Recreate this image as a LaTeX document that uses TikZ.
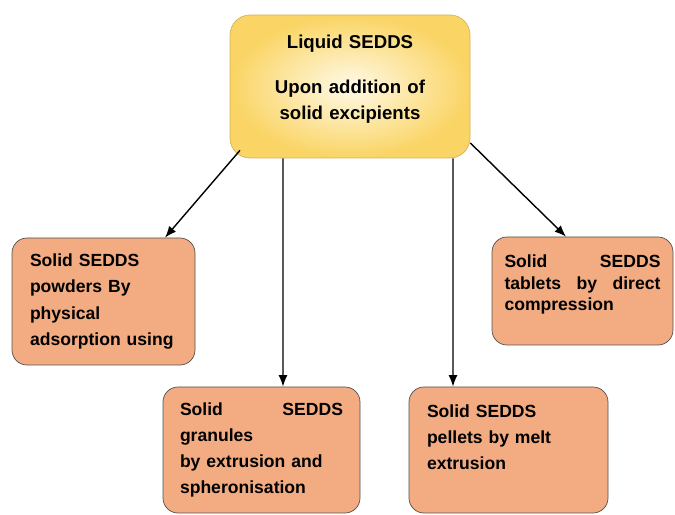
\documentclass[tikz,border=0pt]{standalone}
\usepackage{fontspec}
\setmainfont{Liberation Sans}
\usepackage{tikz}
\usetikzlibrary{calc,arrows.meta}
\definecolor{salmon}{RGB}{243,172,130}
\definecolor{boxline}{RGB}{80,80,80}
\definecolor{gold}{RGB}{250,212,100}
\definecolor{cream}{RGB}{255,250,232}
\tikzset{every edge/.style={draw, line width=0.8pt}}
\tikzset{
  sbox/.style={draw=boxline, fill=salmon, rounded corners=0.3cm, align=left, inner sep=0pt,
    font=\fontsize{10}{14.8}\selectfont\bfseries},
  topbox/.style={draw=gold!85!black, shade, inner color=cream, outer color=gold,
    rounded corners=0.4cm, align=center, inner sep=0pt,
    font=\fontsize{10.6}{14.8}\selectfont\bfseries}
}

\begin{document}
\begin{tikzpicture}[>={Latex[length=2.3mm, width=1.8mm]}]
    \path[use as bounding box] (0, 0) rectangle (13.5, 10.3);

    \node[topbox, minimum width=4.8cm, minimum height=2.86cm, text width=3.8cm, text depth=51pt] at (7.0, 8.57) (liq)
        {Liquid SEDDS\\[10.8pt] Upon addition of\\ solid excipients};

    \node[sbox, minimum width=3.66cm, minimum height=2.54cm, text width=2.94cm] at (2.07, 4.27) (pow)
        {Solid SEDDS\\ powders By\\ physical\\ adsorption using};
    \node[sbox, minimum width=3.62cm, minimum height=2.16cm, text width=3.12cm, text depth=34.5pt,
        font=\fontsize{10}{12.5}\selectfont\bfseries] at (11.65, 4.48) (tab)
        {Solid \hfill SEDDS\\ tablets \hfill by \hfill direct\\ compression};
    \node[sbox, minimum width=3.94cm, minimum height=2.52cm, text width=3.26cm] at (5.23, 1.30) (gran)
        {Solid \hfill SEDDS\\ granules\\ by extrusion and\\ spheronisation};
    \node[sbox, minimum width=3.98cm, minimum height=2.52cm, text width=3.26cm, text depth=44.6pt] at (10.17, 1.30) (pel)
        {Solid SEDDS\\ pellets by melt\\ extrusion};

    \draw ([xshift=-2.2cm, yshift=0.16cm]liq.south) edge[->] ([xshift=1.23cm]pow.north);
    \draw ([xshift=-1.34cm]liq.south) edge[->] ([xshift=0.43cm]gran.north);
    \draw ([xshift=2.06cm]liq.south) edge[->] ([xshift=-1.11cm]pel.north);
    \draw ([yshift=-1.13cm]liq.east) edge[->] ([xshift=-0.33cm]tab.north);
\end{tikzpicture}
\end{document}
